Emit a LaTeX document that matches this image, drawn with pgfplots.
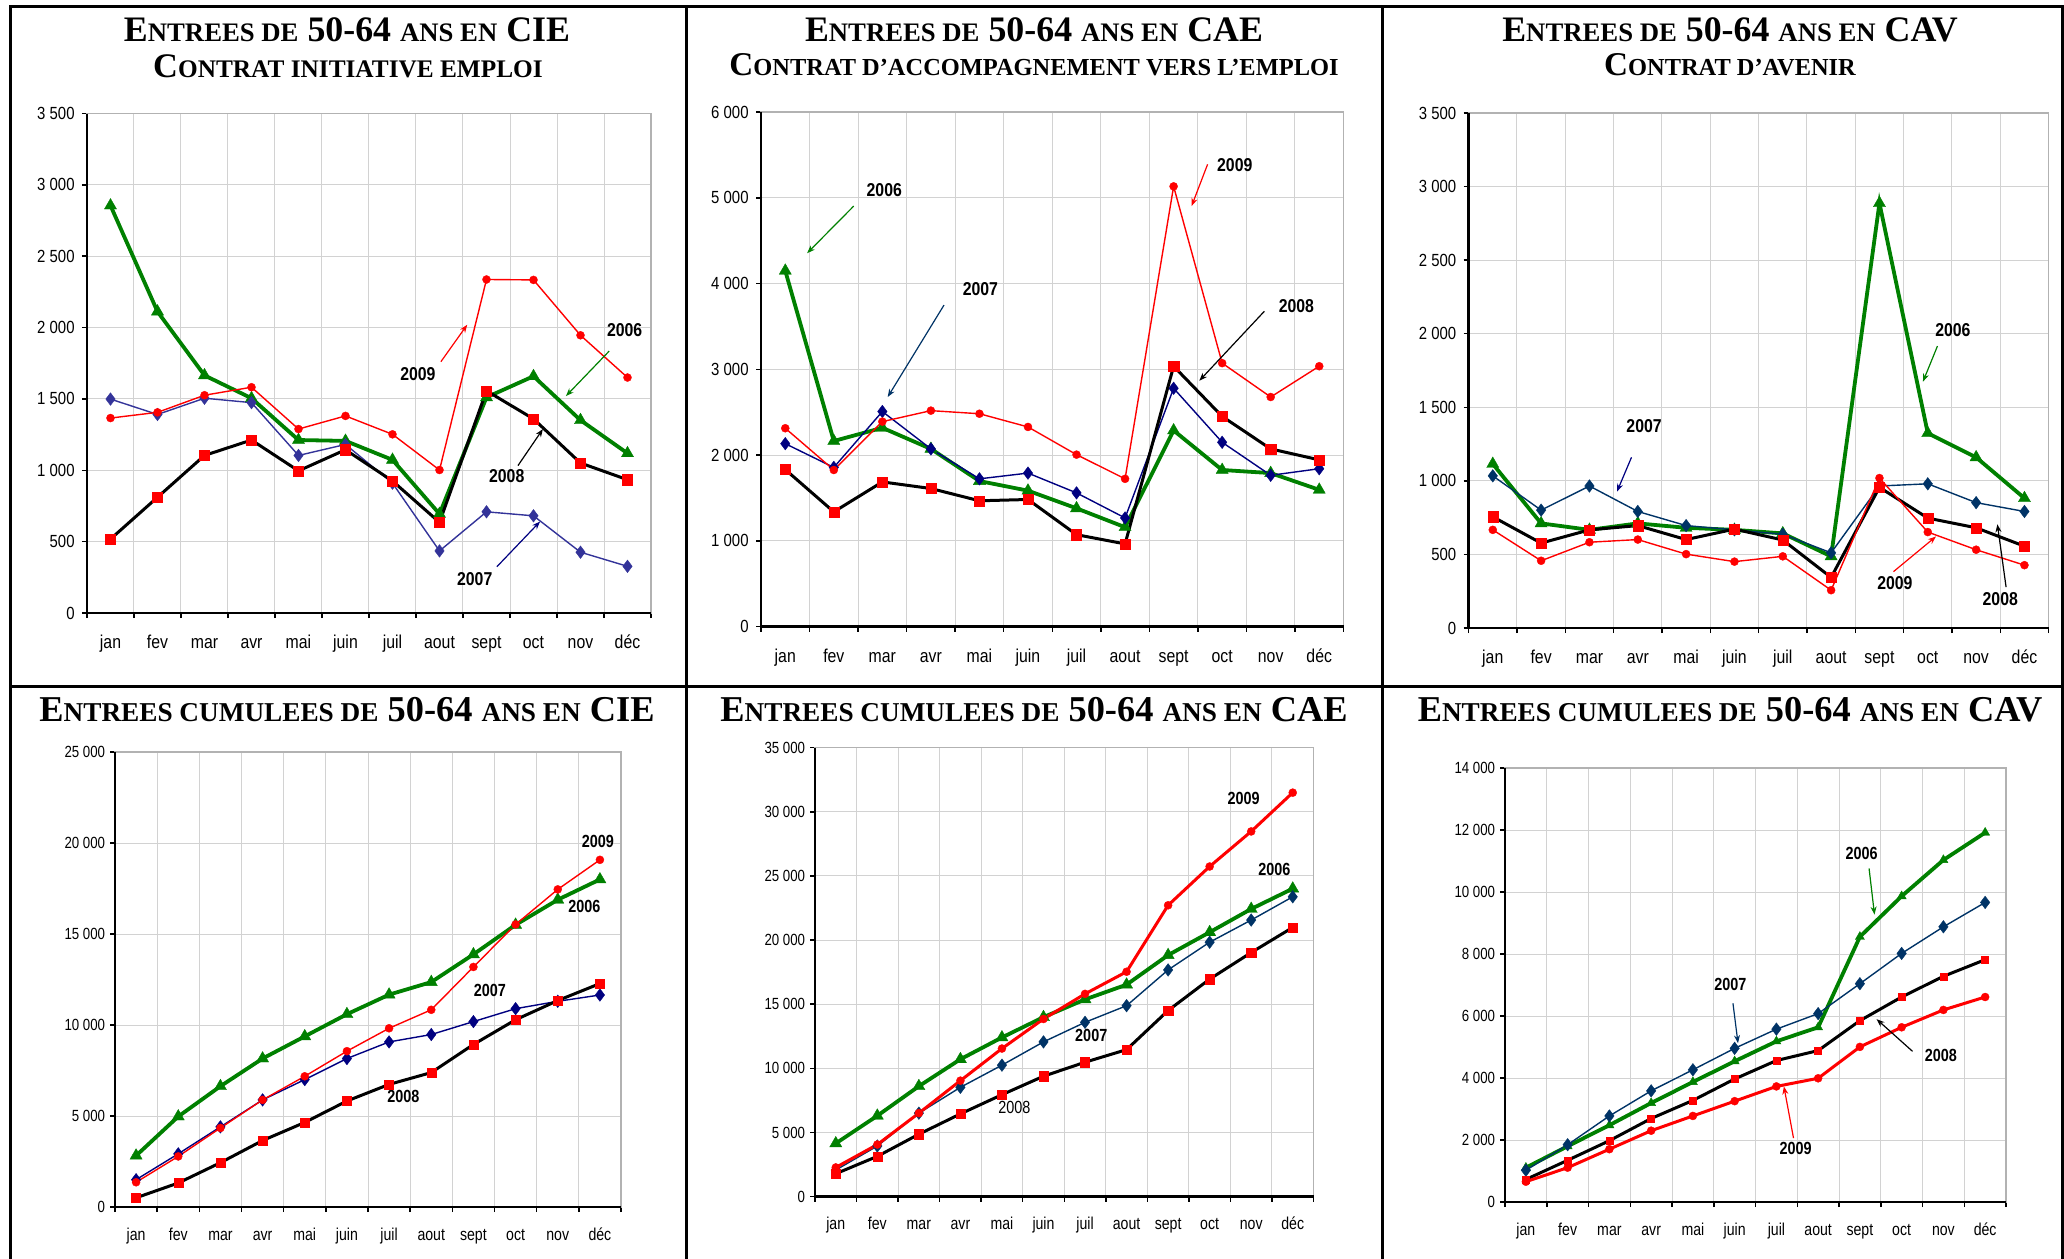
\documentclass[border=0pt]{standalone}
\usepackage{fontspec}
\usepackage{pgfplots}
\usepackage{pgfplotstable}
\pgfplotsset{compat=1.18}
\usetikzlibrary{arrows.meta}
\setmainfont{Liberation Sans}
\newfontfamily\tickfont[FakeStretch=0.85]{Liberation Sans}
\newfontfamily\narrowfont[FakeStretch=0.82]{Liberation Sans}
\newfontfamily\titlefont{Liberation Serif}
\definecolor{cgreen}{RGB}{0,128,0}
\definecolor{cred}{RGB}{255,0,0}
\definecolor{cblueA}{RGB}{51,51,153}
\definecolor{cblueB}{RGB}{0,0,128}
\definecolor{cblueC}{RGB}{0,51,102}
\newcommand\TA[1]{{\fontsize{7.6}{9}\selectfont #1}}
\newcommand\TC[1]{{\fontsize{7.75}{9}\selectfont #1}}
\newcommand\TB[1]{{\fontsize{7.2}{8}\selectfont #1}}
\newcommand\TD[1]{{\fontsize{6.95}{8}\selectfont #1}}

\pgfplotstableread{
m a b c d
0 2855 1499 518 1366
1 2112 1391 811 1406
2 1665 1505 1104 1526
3 1505 1474 1212 1582
4 1212 1104 996 1289
5 1206 1181 1144 1381
6 1073 910 925 1252
7 694 435 635 1002
8 1511 709 1557 2337
9 1659 681 1360 2334
10 1351 426 1051 1946
11 1119 327 934 1650
}\cieM
\pgfplotstableread{
m a b c d
0 4149 2133 1831 2313
1 2164 1856 1338 1826
2 2318 2508 1687 2390
3 2072 2072 1610 2518
4 1697 1723 1467 2482
5 1585 1790 1482 2328
6 1379 1559 1072 2005
7 1159 1267 964 1723
8 2287 2779 3036 5133
9 1826 2149 2451 3072
10 1790 1764 2072 2677
11 1595 1841 1944 3036
}\caeM
\pgfplotstableread{
m a b c d
0 1115 1034 756 667
1 711 801 577 457
2 667 965 667 583
3 711 792 696 601
4 681 696 601 502
5 667 667 672 451
6 643 637 598 487
7 487 511 344 257
8 2887 965 956 1019
9 1324 980 747 652
10 1160 852 681 532
11 882 792 556 427
}\cavM
\pgfplotstableread{
m a b c d
0 2821 1502 507 1360
1 4972 2922 1319 2780
2 6636 4403 2435 4343
3 8157 5885 3653 5885
4 9375 7001 4647 7183
5 10593 8157 5824 8563
6 11668 9071 6737 9821
7 12358 9476 7386 10836
8 13880 10187 8929 13190
9 15503 10897 10288 15524
10 16883 11303 11343 17451
11 17999 11648 12277 19075
}\cieC
\pgfplotstableread{
m a b c d
0 4145 2072 1785 2274
1 6303 3943 3137 4058
2 8606 6505 4864 6505
3 10707 8520 6447 9038
4 12405 10247 7944 11542
5 13988 12060 9383 13845
6 15370 13585 10477 15802
7 16521 14881 11456 17528
8 18824 17672 14506 22710
9 20608 19831 16953 25732
10 22422 21558 19025 28466
11 24005 23372 20983 31489
}\caeC
\pgfplotstableread{
m a b c d
0 1108 1025 727 655
1 1799 1847 1346 1108
2 2478 2776 1978 1704
3 3193 3586 2693 2300
4 3872 4265 3277 2776
5 4540 4957 3968 3253
6 5183 5576 4563 3729
7 5636 6077 4885 3991
8 8555 7042 5850 5004
9 9865 8019 6613 5636
10 11033 8877 7280 6196
11 11915 9663 7816 6613
}\cavC

\pgfplotsset{
 panel/.style={
  scale only axis, clip=false,
  xmin=-0.5, xmax=11.5, ymin=0,
  xtick={0,...,11},
  xticklabels={jan,fev,mar,avr,mai,juin,juil,aout,sept,oct,nov,déc},
  minor xtick={-0.5,0.5,...,11.5},
  xminorgrids, ymajorgrids,
  major x tick style={draw=none},
  xtick pos=bottom, ytick pos=left,
  tick align=outside,
  major tick length=0.5mm, minor tick length=0.5mm,
  grid style={draw=gray!35, line width=0.1mm},
  minor grid style={draw=gray!35, line width=0.1mm},
  axis line style={draw=gray!60, line width=0.15mm},
  every tick/.style={black, line width=0.15mm},
  scaled y ticks=false,
  /pgf/number format/assume math mode=true,
  /pgf/number format/1000 sep={\ },
  after end axis/.code={\draw[black,line width=0.25mm] (rel axis cs:0,1) -- (rel axis cs:0,0) -- (rel axis cs:1,0);},
 },
 toprow/.style={panel,
  yticklabel style={font=\tickfont\fontsize{5.0}{6}\selectfont, xshift=0.5mm},
  xticklabel style={font=\tickfont\fontsize{5.3}{6}\selectfont, text height=1.37mm, text depth=0.35mm, yshift=-0.45mm},
 },
 botrow/.style={panel,
  yticklabel style={font=\narrowfont\fontsize{4.6}{6}\selectfont, xshift=0.75mm},
  xticklabel style={font=\narrowfont\fontsize{4.9}{6}\selectfont, text height=1.27mm, text depth=0.32mm, yshift=-0.3mm},
 },
 s06/.style={cgreen, line width=0.38mm, mark=triangle*, mark size=2.0pt, mark options={fill=cgreen, draw=cgreen, line width=0.1pt}},
 s07/.style={#1, line width=0.14mm, mark=diamond*, mark size=1.8pt, mark options={fill=#1, draw=#1, line width=0.1pt}},
 s08/.style={black, line width=0.3mm, mark=square*, mark size=1.45pt, mark options={fill=cred, draw=cred, line width=0.1pt}},
 s09/.style={cred, line width=0.14mm, mark=*, mark size=1.15pt, mark options={fill=cred, draw=cred, line width=0.1pt}},
}
\tikzset{
 lab/.style={font=\tickfont\bfseries\fontsize{5.3}{6}\selectfont},
 labb/.style={font=\narrowfont\bfseries\fontsize{5.0}{6}\selectfont},
 arr/.style={#1, line width=0.12mm, -{Stealth[length=0.8mm,width=0.6mm]}},
 t1/.style={anchor=base, font=\titlefont\bfseries\fontsize{10.2}{12}\selectfont, inner sep=0pt},
 t3/.style={anchor=base, font=\titlefont\bfseries\fontsize{10.35}{12}\selectfont, inner sep=0pt},
 t2/.style={anchor=base, font=\titlefont\bfseries\fontsize{9.8}{11}\selectfont, inner sep=0pt},
 t4/.style={anchor=base, font=\titlefont\bfseries\fontsize{9.45}{11}\selectfont, inner sep=0pt},
}

\begin{document}
\begin{tikzpicture}
\path[use as bounding box] (0,0) rectangle (206.4mm,-125.9mm);
% frame
\draw[line width=0.3mm] (1.0mm,-125.9mm) -- (1.0mm,-0.7mm) -- (206.2mm,-0.7mm) -- (206.2mm,-125.9mm);
\draw[line width=0.3mm] (68.6mm,-0.7mm) -- (68.6mm,-125.9mm);
\draw[line width=0.3mm] (138.2mm,-0.7mm) -- (138.2mm,-125.9mm);
\draw[line width=0.3mm] (1.0mm,-68.6mm) -- (206.2mm,-68.6mm);

% titles
\node[t1] at (34.7mm,-4.2mm) {E\TA{NTREES DE} 50-64 \TA{ANS EN} CIE};
\node[t2] at (34.8mm,-7.8mm) {C\TB{ONTRAT INITIATIVE EMPLOI}};
\node[t1] at (103.4mm,-4.2mm) {E\TA{NTREES DE} 50-64 \TA{ANS EN} CAE};
\node[t4] at (103.4mm,-7.6mm) {C\TD{ONTRAT D’ACCOMPAGNEMENT VERS L’EMPLOI}};
\node[t1] at (173.0mm,-4.2mm) {E\TA{NTREES DE} 50-64 \TA{ANS EN} CAV};
\node[t4] at (173.0mm,-7.6mm) {C\TD{ONTRAT D’AVENIR}};
\node[t3] at (34.7mm,-72.1mm) {E\TC{NTREES CUMULEES DE} 50-64 \TC{ANS EN} CIE};
\node[t3] at (103.4mm,-72.1mm) {E\TC{NTREES CUMULEES DE} 50-64 \TC{ANS EN} CAE};
\node[t3] at (173.0mm,-72.1mm) {E\TC{NTREES CUMULEES DE} 50-64 \TC{ANS EN} CAV};

% Panel 1
\begin{axis}[toprow, at={(8.7mm,-61.3mm)}, anchor=south west, width=56.4mm, height=49.95mm,
  ymax=3500, ytick={0,500,...,3500}]
\addplot[s06] table[x=m,y=a]{\cieM};
\addplot[s07=cblueA] table[x=m,y=b]{\cieM};
\addplot[s08] table[x=m,y=c]{\cieM};
\addplot[s09] table[x=m,y=d]{\cieM};
\node[lab] at (axis cs:6.54,1674) {2009};
\draw[arr=cred] (axis cs:7.03,1761) -- (axis cs:7.59,2020);
\node[lab] at (axis cs:10.94,1983) {2006};
\draw[arr=cgreen] (axis cs:10.61,1835) -- (axis cs:9.69,1520);
\node[lab] at (axis cs:8.43,956) {2008};
\draw[arr=black] (axis cs:8.67,1033) -- (axis cs:9.2,1289);
\node[lab] at (axis cs:7.75,240) {2007};
\draw[arr=cblueB] (axis cs:8.22,324) -- (axis cs:9.14,641);
\end{axis}

% Panel 2
\begin{axis}[toprow, at={(76.1mm,-62.66mm)}, anchor=south west, width=58.25mm, height=51.46mm,
  ymax=6000, ytick={0,1000,...,6000}]
\addplot[s06] table[x=m,y=a]{\caeM};
\addplot[s07=cblueB] table[x=m,y=b]{\caeM};
\addplot[s08] table[x=m,y=c]{\caeM};
\addplot[s09] table[x=m,y=d]{\caeM};
\node[lab] at (axis cs:2.04,5087) {2006};
\draw[arr=cgreen] (axis cs:1.41,4903) -- (axis cs:0.45,4354);
\node[lab] at (axis cs:4.02,3933) {2007};
\draw[arr=cblueC] (axis cs:3.27,3749) -- (axis cs:2.11,2677);
\node[lab] at (axis cs:9.26,5379) {2009};
\draw[arr=cred] (axis cs:8.7,5390) -- (axis cs:8.37,4903);
\node[lab] at (axis cs:10.53,3738) {2008};
\draw[arr=black] (axis cs:9.87,3677) -- (axis cs:8.53,2867);
\end{axis}

% Panel 3
\begin{axis}[toprow, at={(146.86mm,-62.8mm)}, anchor=south west, width=58.0mm, height=51.5mm,
  ymax=3500, ytick={0,500,...,3500}]
\addplot[s06] table[x=m,y=a]{\cavM};
\addplot[s07=cblueC] table[x=m,y=b]{\cavM};
\addplot[s08] table[x=m,y=c]{\cavM};
\addplot[s09] table[x=m,y=d]{\cavM};
\node[lab] at (axis cs:9.52,2026) {2006};
\draw[arr=cgreen] (axis cs:9.2,1916) -- (axis cs:8.9,1674);
\node[lab] at (axis cs:3.13,1369) {2007};
\draw[arr=cblueB] (axis cs:2.87,1160) -- (axis cs:2.57,927);
\node[lab] at (axis cs:8.32,302) {2009};
\draw[arr=cred] (axis cs:8.29,383) -- (axis cs:9.17,622);
\node[lab] at (axis cs:10.5,194) {2008};
\draw[arr=black] (axis cs:10.62,278) -- (axis cs:10.44,705);
\end{axis}

% Panel 4
\begin{axis}[botrow, at={(11.5mm,-120.7mm)}, anchor=south west, width=50.6mm, height=45.5mm,
  ymax=25000, ytick={0,5000,...,25000}]
\addplot[s06] table[x=m,y=a]{\cieC};
\addplot[s07=cblueB] table[x=m,y=b]{\cieC};
\addplot[s08, mark size=1.3pt] table[x=m,y=c]{\cieC};
\addplot[s09] table[x=m,y=d]{\cieC};
\node[labb] at (axis cs:10.95,20069) {2009};
\node[labb] at (axis cs:10.63,16518) {2006};
\node[labb] at (axis cs:8.39,11911) {2007};
\node[labb] at (axis cs:6.34,6067) {2008};
\end{axis}

% Panel 5
\begin{axis}[botrow, at={(81.5mm,-119.66mm)}, anchor=south west, width=49.85mm, height=44.9mm,
  ymax=35000, ytick={0,5000,...,35000}]
\addplot[s06] table[x=m,y=a]{\caeC};
\addplot[s07=cblueC] table[x=m,y=b]{\caeC};
\addplot[s08, mark size=1.3pt] table[x=m,y=c]{\caeC};
\addplot[s09, line width=0.3mm] table[x=m,y=d]{\caeC};
\node[labb] at (axis cs:9.82,30999) {2009};
\node[labb] at (axis cs:10.56,25530) {2006};
\node[labb] at (axis cs:6.15,12578) {2007};
\node[font=\narrowfont\fontsize{5.0}{6}\selectfont] at (axis cs:4.3,6965) {2008};
\end{axis}

% Panel 6
\begin{axis}[botrow, at={(150.5mm,-120.2mm)}, anchor=south west, width=50.1mm, height=43.4mm,
  ymax=14000, ytick={0,2000,...,14000}]
\addplot[s06, mark size=1.5pt] table[x=m,y=a]{\cavC};
\addplot[s07=cblueC] table[x=m,y=b]{\cavC};
\addplot[s08, mark size=1.0pt] table[x=m,y=c]{\cavC};
\addplot[s09, line width=0.3mm] table[x=m,y=d]{\cavC};
\node[labb] at (axis cs:8.04,11236) {2006};
\draw[arr=cgreen] (axis cs:8.22,10759) -- (axis cs:8.35,9270);
\node[labb] at (axis cs:4.9,7006) {2007};
\draw[arr=cblueC] (axis cs:4.96,6410) -- (axis cs:5.08,5123);
\node[labb] at (axis cs:9.94,4742) {2008};
\draw[arr=black] (axis cs:9.26,4861) -- (axis cs:8.4,5898);
\node[labb] at (axis cs:6.46,1740) {2009};
\draw[arr=cred] (axis cs:6.41,2061) -- (axis cs:6.18,3729);
\end{axis}
\end{tikzpicture}
\end{document}
